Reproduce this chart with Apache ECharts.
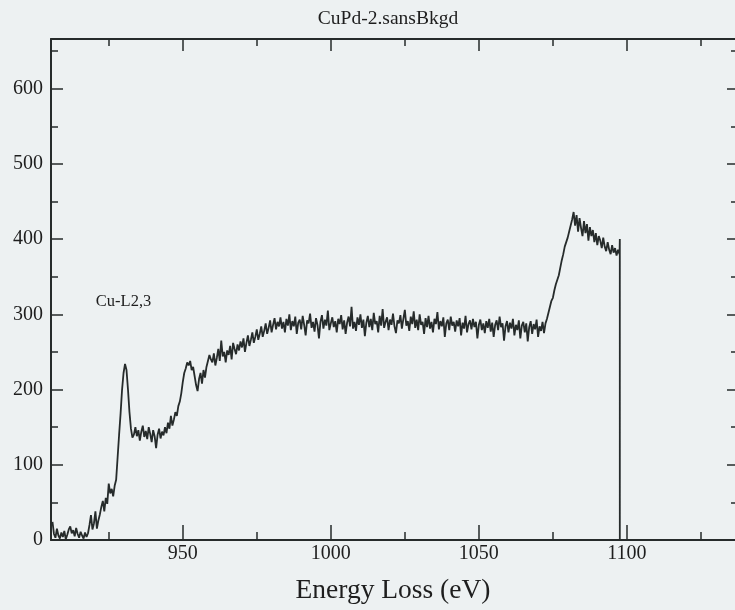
<!DOCTYPE html>
<html>
<head>
<meta charset="utf-8">
<script src="https://cdn.jsdelivr.net/npm/echarts@6/dist/echarts.min.js"></script>
<style>
  html, body { margin: 0; padding: 0; background: #edf1f2; }
  #chart { width: 735px; height: 610px; }
</style>
</head>
<body>
<div id="chart"></div>
<script>
// EELS spectrum, background removed: counts per 0.5 eV channel
const energyStart = 906;   // eV of first channel
const energyStep = 0.5;    // eV per channel
const counts = [
  // 906.0 - 917.5 : pre-edge
  24, 8, 3, 15, 6, 2, 10, 4, 12, 1, 7, 14, 18, 9, 13, 5, 16, 8, 3, 11, 6, 2, 10, 4,
  // 918.0 - 927.5 : onset
  9, 20, 33, 14, 22, 38, 15, 26, 34, 44, 52, 38, 56, 48, 75, 62, 68, 58, 72, 80,
  // 928.0 - 933.5 : L3 white line
  110, 140, 168, 200, 222, 234, 226, 200, 170, 148, 136, 140,
  // 934.0 - 946.5 : post-peak plateau
  150, 138, 146, 132, 144, 152, 137, 145, 134, 150, 141, 130, 146, 138, 122, 140, 148, 135, 144, 139,
  150, 142, 156, 148, 165, 152,
  // 947.0 - 952.5 : second rise
  160, 170, 165, 178, 184, 195, 210, 222, 228, 236, 232, 238,
  // 953.0 - 959.5
  226, 230, 218, 206, 198, 214, 222, 208, 226, 216, 230, 238, 246, 240,
  // 960.0 - 969.5
  236, 248, 232, 242, 254, 238, 265, 244, 250, 236, 252, 246, 258, 240, 262, 254, 247, 260, 252, 264,
  // 970.0 - 982.5
  256, 268, 250, 262, 272, 258, 266, 276, 262, 270, 280, 266, 274, 284, 270, 278, 288, 274, 282, 292,
  276, 286, 295, 280, 290, 284,
  // 983.0 - 1072.5 : flat region
  296, 281, 290, 276, 294, 285, 300, 279, 291, 284, 297, 274, 289, 293, 280, 298, 286, 272, 292, 288,
  301, 282, 290, 277, 295, 286, 268, 290, 299, 281, 293, 285, 305, 279, 288, 296, 283, 291, 276, 294,
  287, 299, 280, 292, 274, 289, 297, 284, 310, 281, 290, 278, 296, 286, 300, 282, 293, 271, 289, 298,
  283, 294, 279, 302, 287, 291, 276, 298, 285, 307, 282, 290, 296, 279, 293, 286, 301, 284, 275, 292,
  288, 299, 281, 294, 306, 285, 291, 278, 297, 287, 304, 282, 293, 279, 300, 286, 290, 274, 295, 283,
  298, 281, 290, 276, 294, 287, 303, 280, 291, 284, 296, 270, 288, 293, 279, 297, 285, 290, 277, 292,
  284, 295, 272, 289, 281, 298, 276, 287, 292, 280, 294, 283, 290, 268, 286, 293, 279, 288, 275, 291,
  282, 294, 277, 289, 270, 286, 292, 279, 297, 283, 288, 265, 284, 291, 276, 289, 281, 294, 272, 286,
  279, 292, 268, 285, 290, 276, 288, 264, 283, 291, 274, 287, 280, 293, 270, 284, 278, 290, 275, 288,
  // 1073.0 - 1081.5 : second edge
  294, 302, 310, 318, 322, 332, 340, 346, 352, 362, 372, 380, 390, 396, 402, 410, 418, 426,
  // 1082.0 - 1097.5
  436, 418, 432, 410, 428, 415, 404, 424, 408, 420, 398, 416, 404, 412, 396, 408, 392, 404, 398, 388,
  402, 390, 384, 396, 386, 380, 392, 382, 388, 378, 386, 380
];
// end of the recorded window
const cutoffEnergy = 1097.6;
const cutoffCounts = [400, 0];
const axisEndEnergy = 1136.5;

const xMin = 905.5, xMax = 1136.5;
const yMin = 0, yMax = 666;
const xMajorTicks = [950, 1000, 1050, 1100];
const xMinorTicks = [925, 975, 1025, 1075, 1125];
const yMajorTicks = [0, 100, 200, 300, 400, 500, 600];
const yMinorTicks = [50, 150, 250, 350, 450, 550, 650];

const spectrum = counts.map((c, i) => [energyStart + i * energyStep, c]);
spectrum.push([cutoffEnergy, cutoffCounts[0]], [cutoffEnergy, cutoffCounts[1]], [axisEndEnergy, 0]);

const ink = '#262b2b';
const serif = 'Liberation Serif';
const gridBox = { left: 51, right: 0, top: 39, bottom: 70 };
const plain = v => String(v);

function xAxisDef(gridIndex, position, ticks, len, withLabels, withLine) {
  return {
    type: 'value', gridIndex, position, min: xMin, max: xMax,
    axisLine: { show: withLine, onZero: false, lineStyle: { color: ink, width: 2 } },
    axisTick: { show: true, inside: true, length: len, customValues: ticks, lineStyle: { color: ink, width: 1.5 } },
    axisLabel: withLabels ? { show: true, customValues: ticks, formatter: plain, color: '#1e1e1e', fontFamily: serif, fontSize: 20, margin: 4 } : { show: false },
    splitLine: { show: false },
    name: withLabels ? 'Energy Loss (eV)' : '',
    nameLocation: 'middle', nameGap: 37,
    nameTextStyle: { color: '#1e1e1e', fontFamily: serif, fontSize: 27.5 }
  };
}
function yAxisDef(gridIndex, position, ticks, len, withLabels, withLine) {
  return {
    type: 'value', gridIndex, position, min: yMin, max: yMax,
    axisLine: { show: withLine, onZero: false, lineStyle: { color: ink, width: 2 } },
    axisTick: { show: true, inside: true, length: len, customValues: ticks, lineStyle: { color: ink, width: 1.5 } },
    axisLabel: withLabels ? { show: true, customValues: ticks, formatter: plain, color: '#1e1e1e', fontFamily: serif, fontSize: 20, margin: 8 } : { show: false },
    splitLine: { show: false }
  };
}

const chart = echarts.init(document.getElementById('chart'), null, { renderer: 'canvas' });
chart.setOption({
  backgroundColor: '#edf1f2',
  animation: false,
  grid: [Object.assign({}, gridBox), Object.assign({}, gridBox)],
  xAxis: [
    xAxisDef(0, 'bottom', xMajorTicks, 15, true, true),
    xAxisDef(0, 'top', xMajorTicks, 12, false, true),
    xAxisDef(1, 'bottom', xMinorTicks, 8, false, false),
    xAxisDef(1, 'top', xMinorTicks, 7, false, false)
  ],
  yAxis: [
    yAxisDef(0, 'left', yMajorTicks, 12, true, true),
    yAxisDef(0, 'right', yMajorTicks, 8, false, false),
    yAxisDef(1, 'left', yMinorTicks, 7, false, false),
    yAxisDef(1, 'right', yMinorTicks, 4, false, false)
  ],
  graphic: [{
    type: 'text', x: 388, y: 19,
    style: { text: 'CuPd-2.sansBkgd', fill: '#1e1e1e', font: '19.5px "Liberation Serif"', textAlign: 'center', textVerticalAlign: 'middle' }
  }],
  series: [{
    type: 'line', xAxisIndex: 0, yAxisIndex: 0,
    data: spectrum, showSymbol: false, symbol: 'none',
    lineStyle: { color: ink, width: 1.8 },
    markPoint: {
      symbol: 'circle', symbolSize: 0,
      data: [{ coord: [930, 317] }],
      label: { show: true, position: 'inside', formatter: 'Cu-L2,3', color: '#1e1e1e', fontFamily: serif, fontSize: 16.5 }
    }
  }]
});
</script>
</body>
</html>
